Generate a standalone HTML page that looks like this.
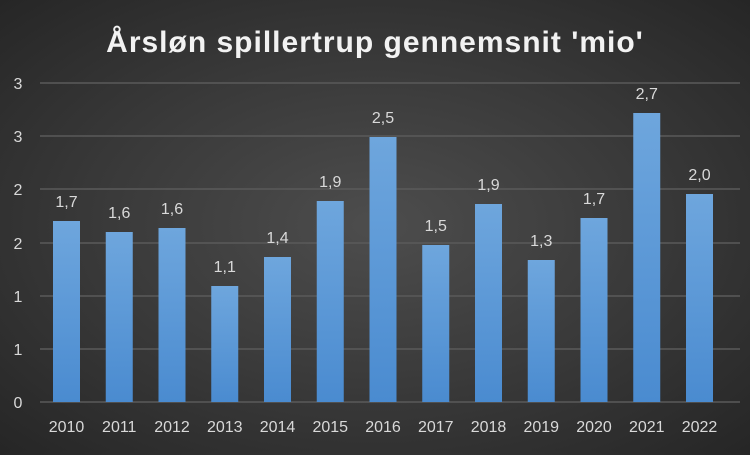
<!DOCTYPE html>
<html><head><meta charset="utf-8"><style>
html,body{margin:0;padding:0;}
body{width:750px;height:450px;overflow:hidden;background:radial-gradient(ellipse at 50% 50%,#4d4d4d 0%,#3a3a3a 50%,#262626 100%);font-family:"Liberation Sans",sans-serif;}
svg text{font-family:"Liberation Sans",sans-serif;font-size:16px;fill:#d9d9d9;}
svg text.t{font-size:30px;font-weight:bold;fill:#f2f2f2;}
</style></head><body>
<svg width="750" height="450" xmlns="http://www.w3.org/2000/svg">
<defs><linearGradient id="g" x1="0" y1="0" x2="0" y2="1"><stop offset="0" stop-color="#6ea6dd"/><stop offset="1" stop-color="#4a8bd0"/></linearGradient></defs>
<text class="t" x="375" y="52" text-anchor="middle" letter-spacing="1">Årsløn spillertrup gennemsnit 'mio'</text>
<g stroke="#5a5a5a" stroke-width="1.5">
<line x1="40" x2="740" y1="83" y2="83"/><line x1="40" x2="740" y1="136" y2="136"/><line x1="40" x2="740" y1="189" y2="189"/><line x1="40" x2="740" y1="243" y2="243"/><line x1="40" x2="740" y1="296" y2="296"/><line x1="40" x2="740" y1="349" y2="349"/><line x1="40" x2="740" y1="402" y2="402"/>
</g>
<g text-anchor="middle">
<text x="18" y="89">3</text><text x="18" y="142">3</text><text x="18" y="195">2</text><text x="18" y="249">2</text><text x="18" y="302">1</text><text x="18" y="355">1</text><text x="18" y="408">0</text>
</g>
<g fill="url(#g)">
<rect x="53" y="221" width="27" height="181"/>
<rect x="105.75" y="232" width="27" height="170"/>
<rect x="158.5" y="228" width="27" height="174"/>
<rect x="211.25" y="286" width="27" height="116"/>
<rect x="264" y="257" width="27" height="145"/>
<rect x="316.75" y="201" width="27" height="201"/>
<rect x="369.5" y="137" width="27" height="265"/>
<rect x="422.25" y="245" width="27" height="157"/>
<rect x="475" y="204" width="27" height="198"/>
<rect x="527.75" y="260" width="27" height="142"/>
<rect x="580.5" y="218" width="27" height="184"/>
<rect x="633.25" y="113" width="27" height="289"/>
<rect x="686" y="194" width="27" height="208"/>
</g>
<g text-anchor="middle">
<text x="66.5" y="207">1,7</text>
<text x="119.25" y="218">1,6</text>
<text x="172" y="214">1,6</text>
<text x="224.75" y="272">1,1</text>
<text x="277.5" y="243">1,4</text>
<text x="330.25" y="187">1,9</text>
<text x="383" y="123">2,5</text>
<text x="435.75" y="231">1,5</text>
<text x="488.5" y="190">1,9</text>
<text x="541.25" y="246">1,3</text>
<text x="594" y="204">1,7</text>
<text x="646.75" y="99">2,7</text>
<text x="699.5" y="180">2,0</text>
</g>
<g text-anchor="middle">
<text x="66.5" y="432">2010</text><text x="119.25" y="432">2011</text><text x="172" y="432">2012</text><text x="224.75" y="432">2013</text><text x="277.5" y="432">2014</text><text x="330.25" y="432">2015</text><text x="383" y="432">2016</text><text x="435.75" y="432">2017</text><text x="488.5" y="432">2018</text><text x="541.25" y="432">2019</text><text x="594" y="432">2020</text><text x="646.75" y="432">2021</text><text x="699.5" y="432">2022</text>
</g>
</svg>
</body></html>
